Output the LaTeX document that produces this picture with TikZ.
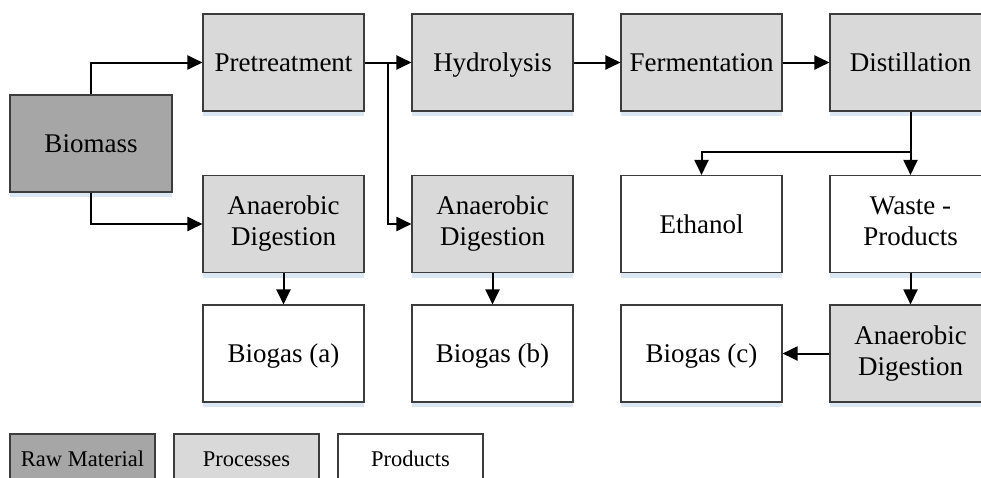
\documentclass[tikz,border=0pt]{standalone}
\usepackage{fontspec}
\setmainfont{Liberation Serif}
\usetikzlibrary{arrows.meta,shadows,calc}
\definecolor{rawc}{HTML}{A6A6A6}
\definecolor{procc}{HTML}{D9D9D9}
\definecolor{edgec}{HTML}{3C3C3C}
\definecolor{shadc}{HTML}{DCE7F4}
\newcommand{\bl}[1]{\strut#1\strut}
\newcommand{\sln}[1]{\rule[-6pt]{0pt}{30pt}#1}
\tikzset{
  box/.style={draw=edgec, line width=1.1pt, minimum width=161pt, minimum height=97pt,
    inner sep=0pt, align=center, font=\fontsize{27}{31}\selectfont,
    drop shadow={shadow xshift=0pt, shadow yshift=-5pt, fill=shadc, opacity=1}},
  rawbox/.style={box, fill=rawc},
  procbox/.style={box, fill=procc},
  prodbox/.style={box, fill=white},
  legbox/.style={draw=edgec, line width=1.1pt, minimum width=145pt, minimum height=46pt,
    inner sep=0pt, font=\fontsize{22.5}{26}\selectfont},
  arr/.style={draw=black, line width=2pt, -{Triangle[length=15pt,width=14pt]}}
}
\begin{document}
\begin{tikzpicture}[x=1pt,y=-1pt]
\useasboundingbox (0,0) rectangle (981,477);
\clip (0,0) rectangle (981,477);
\node[rawbox, minimum width=162pt] (bio) at (91,143.5) {\sln{Biomass}};
\node[procbox] (pre) at (283.5,62.5) {\sln{Pretreatment}};
\node[procbox] (hyd) at (492.5,62.5) {\sln{Hydrolysis}};
\node[procbox] (fer) at (701.5,62.5) {\sln{Fermentation}};
\node[procbox] (dis) at (910.5,62.5) {\sln{Distillation}};
\node[procbox] (ad1) at (283.5,224) {\bl{Anaerobic}\\\bl{Digestion}};
\node[procbox] (ad2) at (492.5,224) {\bl{Anaerobic}\\\bl{Digestion}};
\node[prodbox] (eth) at (701.5,224) {\sln{Ethanol}};
\node[prodbox] (was) at (910.5,224) {\bl{Waste -}\\\bl{Products}};
\node[prodbox] (ba) at (283.5,353.5) {\sln{Biogas (a)}};
\node[prodbox] (bb) at (492.5,353.5) {\sln{Biogas (b)}};
\node[prodbox] (bc) at (701.5,353.5) {\sln{Biogas (c)}};
\node[procbox] (ad3) at (910.5,353.5) {\bl{Anaerobic}\\\bl{Digestion}};
\node[legbox, fill=rawc] (lraw) at (82.5,457) {\sln{Raw Material}};
\node[legbox, fill=procc] (lproc) at (246.5,457) {\sln{Processes}};
\node[legbox, fill=white] (lprod) at (410.5,457) {\sln{Products}};
\coordinate (br) at (388,62.5);
\coordinate (sp) at (910.5,152);
\draw[arr] (bio.north) |- (pre.west);
\draw[arr] (bio.south) |- (ad1.west);
\draw[arr] (pre.east) -- (hyd.west);
\draw[arr] (br) |- (ad2.west);
\draw[arr] (hyd.east) -- (fer.west);
\draw[arr] (fer.east) -- (dis.west);
\draw[arr] (dis.south) -- (was.north);
\draw[arr] (sp) -| (eth.north);
\draw[arr] (ad1.south) -- (ba.north);
\draw[arr] (ad2.south) -- (bb.north);
\draw[arr] (was.south) -- (ad3.north);
\draw[arr] (ad3.west) -- (bc.east);
\end{tikzpicture}
\end{document}
